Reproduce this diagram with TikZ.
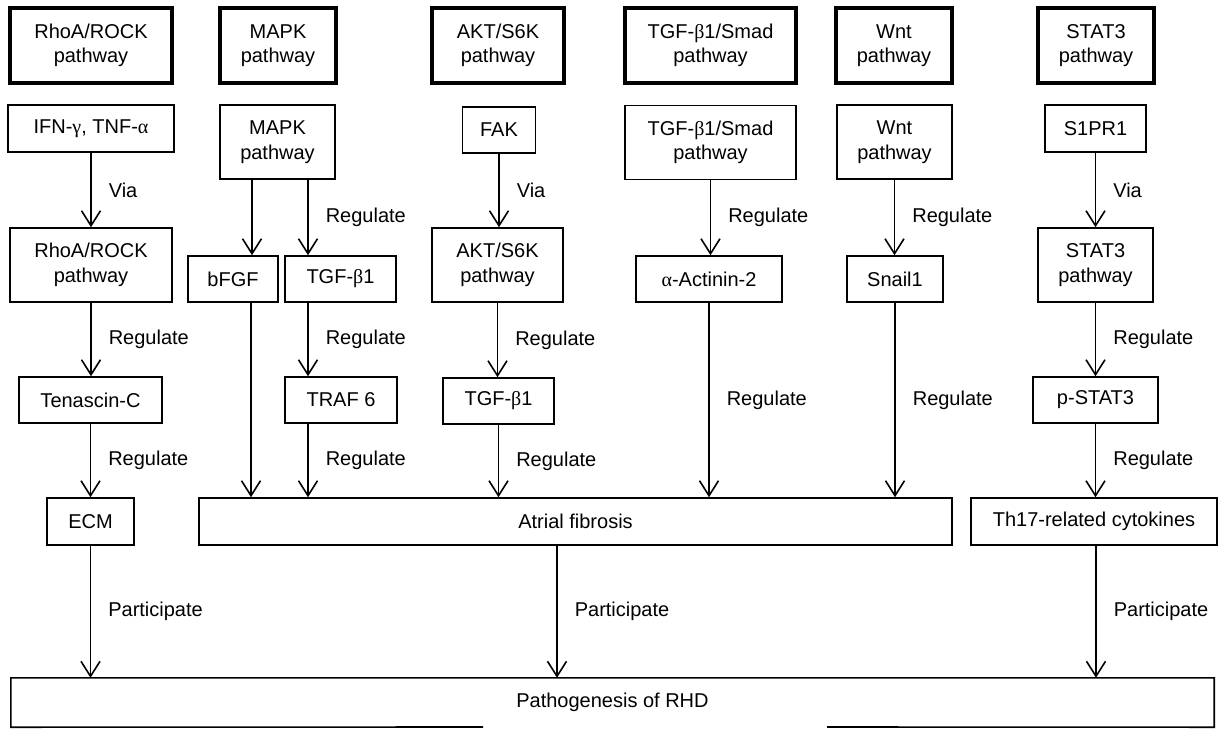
\documentclass[tikz,border=0pt]{standalone}
\usepackage{fontspec}
\setmainfont{Liberation Sans}
\newfontfamily\grk{Liberation Serif}
\usetikzlibrary{arrows.meta,calc}
\begin{document}
\begin{tikzpicture}[x=1pt,y=-1pt,
  every node/.style={font=\fontsize{20}{24.5}\selectfont, align=center, inner sep=0pt},
  box/.style={draw, line width=1.6pt, minimum height=46pt},
  tallbox/.style={draw, line width=1.6pt, minimum height=74pt},
  hdr/.style={draw, line width=3.4pt, minimum height=75pt},
  arr/.style={line width=1.6pt, -{Straight Barb[length=15pt,width=19pt]}},
  lbl/.style={midway, right=17pt}]
\fill[white] (0,0) rectangle (1218,729);
\useasboundingbox (0,0) rectangle (1218,729);
% header row
\node[hdr, minimum width=162pt] (h1) at (91,45.5) {RhoA/ROCK\\pathway};
\node[hdr, minimum width=116pt] (h2) at (278,45.5) {MAPK\\pathway};
\node[hdr, minimum width=132pt] (h3) at (498,45.5) {AKT/S6K\\pathway};
\node[hdr, minimum width=171pt] (h4) at (710.5,45.5) {TGF-{\grk β}1/Smad\\pathway};
\node[hdr, minimum width=116pt] (h5) at (894,45.5) {Wnt\\pathway};
\node[hdr, minimum width=116pt] (h6) at (1096,45.5) {STAT3\\pathway};
% row 2
\node[box, minimum width=166pt, minimum height=47pt] (ifn) at (91,128.5) {IFN-{\grk γ}, TNF-{\grk α}};
\node[tallbox, minimum width=115pt] (mapk) at (277.5,142) {MAPK\\pathway};
\node[box, minimum width=73pt] (fak) at (499,130) {FAK};
\node[tallbox, minimum width=171pt] (tgf2) at (710.5,142.5) {TGF-{\grk β}1/Smad\\pathway};
\node[tallbox, minimum width=115pt] (wnt2) at (894.5,142) {Wnt\\pathway};
\node[box, minimum width=101pt, minimum height=47pt] (s1pr1) at (1095.5,128.5) {S1PR1};
% row 3
\node[tallbox, minimum width=162pt] (rhoa2) at (91,265) {RhoA/ROCK\\pathway};
\node[box, minimum width=90pt] (bfgf) at (233,279) {bFGF};
\node[box, minimum width=111pt] (tgfm) at (340.5,279) {TGF-{\grk β}1};
\node[tallbox, minimum width=131pt] (akt2) at (497.5,265) {AKT/S6K\\pathway};
\node[box, minimum width=146pt] (actn) at (709,279) {{\grk α}-Actinin-2};
\node[box, minimum width=96pt] (snail) at (895,279) {Snail1};
\node[tallbox, minimum width=115pt] (stat2) at (1095.5,265) {STAT3\\pathway};
% row 4
\node[box, minimum width=143pt] (ten) at (90.5,400) {Tenascin-C};
\node[box, minimum width=112pt] (traf) at (341,400) {TRAF 6};
\node[box, minimum width=111pt] (tgfa) at (498.5,401) {TGF-{\grk β}1};
\node[box, minimum width=125pt] (pstat) at (1095.5,400) {p-STAT3};
% row 5
\node[box, minimum width=87pt, minimum height=47pt] (ecm) at (90.5,521.5) {ECM};
\node[box, minimum width=753pt, minimum height=47pt] (atrial) at (575.5,521.5) {Atrial fibrosis};
\node[box, minimum width=246pt, minimum height=47pt] (th17) at (1094,521.5) {Th17-related cytokines};
% bottom
\node[minimum width=1203pt, minimum height=49pt] (path) at (612.5,702.5) {Pathogenesis of RHD};
\coordinate (gapl) at (483,727);
\coordinate (gapr) at (827,727);
\draw[line width=1.6pt] (gapl) -- (path.south west) -- (path.north west) -- (path.north east) -- (path.south east) -- (gapr);
% offset coordinates
\coordinate (bfgfin) at ([xshift=19pt]bfgf.north);
\coordinate (bfgfout) at ([xshift=18pt]bfgf.south);
\coordinate (tgfmin) at ([xshift=-32.5pt]tgfm.north);
\coordinate (tgfmout) at ([xshift=-32.5pt]tgfm.south);
\coordinate (trafout) at ([xshift=-33pt]traf.south);
\coordinate (atrout) at ([xshift=-18.5pt]atrial.south);
\coordinate (th17out) at ([xshift=2pt]th17.south);
% connectors
\draw[arr] (ifn.south) -- node[lbl]{Via} (ifn.south |- rhoa2.north);
\draw[arr] (bfgfin |- mapk.south) -- (bfgfin);
\draw[arr] (tgfmin |- mapk.south) -- node[lbl]{Regulate} (tgfmin);
\draw[arr] (fak.south) -- node[lbl]{Via} (fak.south |- akt2.north);
\draw[arr] (tgf2.south) -- node[lbl]{Regulate} (tgf2.south |- actn.north);
\draw[arr] (wnt2.south) -- node[lbl]{Regulate} (wnt2.south |- snail.north);
\draw[arr] (s1pr1.south) -- node[lbl]{Via} (s1pr1.south |- stat2.north);
\draw[arr] (rhoa2.south) -- node[lbl]{Regulate} (rhoa2.south |- ten.north);
\draw[arr] (tgfmout) -- node[lbl]{Regulate} (tgfmout |- traf.north);
\draw[arr] (akt2.south) -- node[lbl]{Regulate} (akt2.south |- tgfa.north);
\draw[arr] (stat2.south) -- node[lbl]{Regulate} (stat2.south |- pstat.north);
\draw[arr] (ten.south) -- node[lbl]{Regulate} (ten.south |- ecm.north);
\draw[arr] (bfgfout) -- (bfgfout |- atrial.north);
\draw[arr] (trafout) -- node[lbl]{Regulate} (trafout |- atrial.north);
\draw[arr] (tgfa.south) -- node[lbl]{Regulate} (tgfa.south |- atrial.north);
\draw[arr] (actn.south) -- node[lbl]{Regulate} (actn.south |- atrial.north);
\draw[arr] (snail.south) -- node[lbl]{Regulate} (snail.south |- atrial.north);
\draw[arr] (pstat.south) -- node[lbl]{Regulate} (pstat.south |- th17.north);
\draw[arr] (ecm.south) -- node[lbl]{Participate} (ecm.south |- path.north);
\draw[arr] (atrout) -- node[lbl]{Participate} (atrout |- path.north);
\draw[arr] (th17out) -- node[lbl]{Participate} (th17out |- path.north);
\end{tikzpicture}
\end{document}
